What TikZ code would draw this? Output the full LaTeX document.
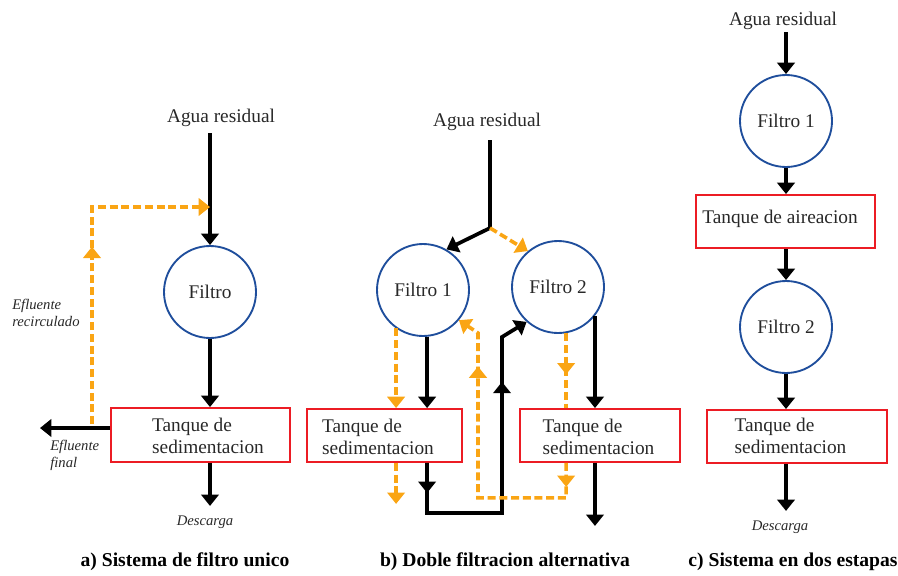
\documentclass[tikz,border=0pt]{standalone}
\usepackage{fontspec}
\setmainfont{Liberation Serif}
\usetikzlibrary{arrows.meta,decorations.markings,calc}
\definecolor{flowor}{RGB}{250,165,20}
\definecolor{filtblue}{RGB}{31,78,156}
\definecolor{tankred}{RGB}{236,28,36}
\definecolor{inkgray}{RGB}{40,40,40}
\tikzset{
  x=0.75pt, y=-0.75pt,
  >={Triangle[width=13pt,length=8.5pt]},
  filt/.style={circle, draw=filtblue, line width=1.4pt, minimum size=69pt,
    inner sep=0pt, text=inkgray, font=\fontsize{14.5}{16.5}\selectfont},
  tank/.style={rectangle, draw=tankred, line width=1.4pt, inner sep=0pt},
  lbl/.style={text=inkgray, font=\fontsize{14.5}{16.5}\selectfont, inner sep=0pt, align=left},
  note/.style={text=inkgray, font=\fontsize{11}{12.8}\selectfont\itshape, inner sep=0pt, align=left},
  capt/.style={font=\fontsize{14.7}{17}\selectfont\bfseries, inner sep=0pt},
  pipe/.style={line width=2.8pt, draw=black},
  flow/.style={pipe, ->},
  opipe/.style={line width=2.7pt, draw=flowor, dash pattern=on 6pt off 2.8pt},
  oflow/.style={opipe, ->},
  onetip/.style={postaction={decorate},
    decoration={markings, mark=at position #1 with {\arrow{>}}}},
  twotips/.style 2 args={postaction={decorate},
    decoration={markings, mark=at position #1 with {\arrow{>}},
                          mark=at position #2 with {\arrow{>}}}},
}
\begin{document}
\begin{tikzpicture}
\useasboundingbox (0,0) rectangle (898,575);

% ---------- a) single filter ----------
\node[lbl] (aguaA) at (221,118) {Agua residual};
\node[filt] (fA) at (210,292) {Filtro};
\node[tank, minimum width=134.25pt, minimum height=40.5pt] (tA) at (200.5,435) {};
\node[lbl] (tAtxt) at (208,436) {Tanque de\\sedimentacion};
\node[note] (descA) at (205,522) {Descarga};
\node[note, anchor=west] (efAtxt) at (50,455) {Efluente\\final};
\node[note, anchor=west] (recAtxt) at (12,313) {Efluente\\recirculado};
\coordinate (efA) at (40,428);
\coordinate (rA0) at (92,424);
\coordinate (rA1) at (92,207);

\draw[flow] ($(aguaA.south -| fA)+(0,6)$) -- (fA.north);
\draw[flow] (fA.south) -- (fA.south |- tA.north);
\draw[flow] (tA.south -| fA) -- ++(0,43);
\draw[flow] (tA.west |- efA) -- (efA);
\draw[oflow, onetip=133pt] (rA0) -- (rA1) -- (rA1 -| fA);

\node[capt] (capA) at (185,562) {a) Sistema de filtro unico};

% ---------- b) alternating double filtration ----------
\node[lbl] (aguaB) at (487,122) {Agua residual};
\node[filt] (f1B) at (423,290) {Filtro 1};
\node[filt] (f2B) at (558,287) {Filtro 2};
\node[tank, minimum width=116.25pt, minimum height=39.75pt] (t1B) at (384.5,435.5) {};
\node[lbl] (t1Btxt) at (378,437) {Tanque de\\sedimentacion};
\node[tank, minimum width=120pt, minimum height=39.75pt] (t2B) at (600,435.5) {};
\node[lbl] (t2Btxt) at (598.5,437) {Tanque de\\sedimentacion};
\coordinate (jB) at (490,228);
\coordinate (bB) at (502,337);
\coordinate (oB) at (478,333);

\draw[pipe] ($(aguaB.south -| jB)+(0,9)$) -- (jB);
\draw[flow] (jB) -- (f1B.60);
\draw[oflow] (jB) -- (f2B.130);
% filter 1 outlets
\draw[oflow] (f1B.235) -- (f1B.235 |- t1B.north);
\draw[flow] (f1B.275) -- (f1B.275 |- t1B.north);
\draw[oflow] (t1B.south -| f1B.235) -- ++(0,41);
% tank 1 effluent to filter 2
\draw[flow, twotips={22.5pt}{192pt}] (t1B.south -| f1B.275) -- ++(0,50) -| (bB) -- (f2B.228);
% filter 2 outlets
\draw[opipe, onetip=0.55] (f2B.-80) -- (f2B.-80 |- t2B.north);
\draw[flow] (f2B.-38.5) -- (f2B.-38.5 |- t2B.north);
\draw[flow] (t2B.south -| f2B.-38.5) -- ++(0,63);
% tank 2 effluent back to filter 1
\draw[oflow, twotips={18pt}{191pt}] (t2B.south -| f2B.-80) -- ++(0,35) -| (oB) -- (f1B.-40);

\node[capt] (capB) at (505,562) {b) Doble filtracion alternativa};

% ---------- c) two-stage system ----------
\node[lbl] (aguaC) at (783,21) {Agua residual};
\node[filt] (f1C) at (786,121) {Filtro 1};
\node[tank, minimum width=134.25pt, minimum height=39.75pt] (aerC) at (785.5,221.5) {};
\node[lbl] (aerCtxt) at (780,219) {Tanque de aireacion};
\node[filt] (f2C) at (786,327) {Filtro 2};
\node[tank, minimum width=135pt, minimum height=39.75pt] (t2C) at (797,436.5) {};
\node[lbl] (t2Ctxt) at (790.5,436) {Tanque de\\sedimentacion};
\node[note] (descC) at (780,527) {Descarga};

\draw[flow] ($(aguaC.south -| f1C)+(0,2)$) -- (f1C.north);
\draw[flow] (f1C.south) -- (f1C.south |- aerC.north);
\draw[flow] (aerC.south -| f1C) -- (f2C.north);
\draw[flow] (f2C.south) -- (f2C.south |- t2C.north);
\draw[flow] (t2C.south -| f2C) -- ++(0,47);

\node[capt] (capC) at (793,562) {c) Sistema en dos estapas};
\end{tikzpicture}
\end{document}
